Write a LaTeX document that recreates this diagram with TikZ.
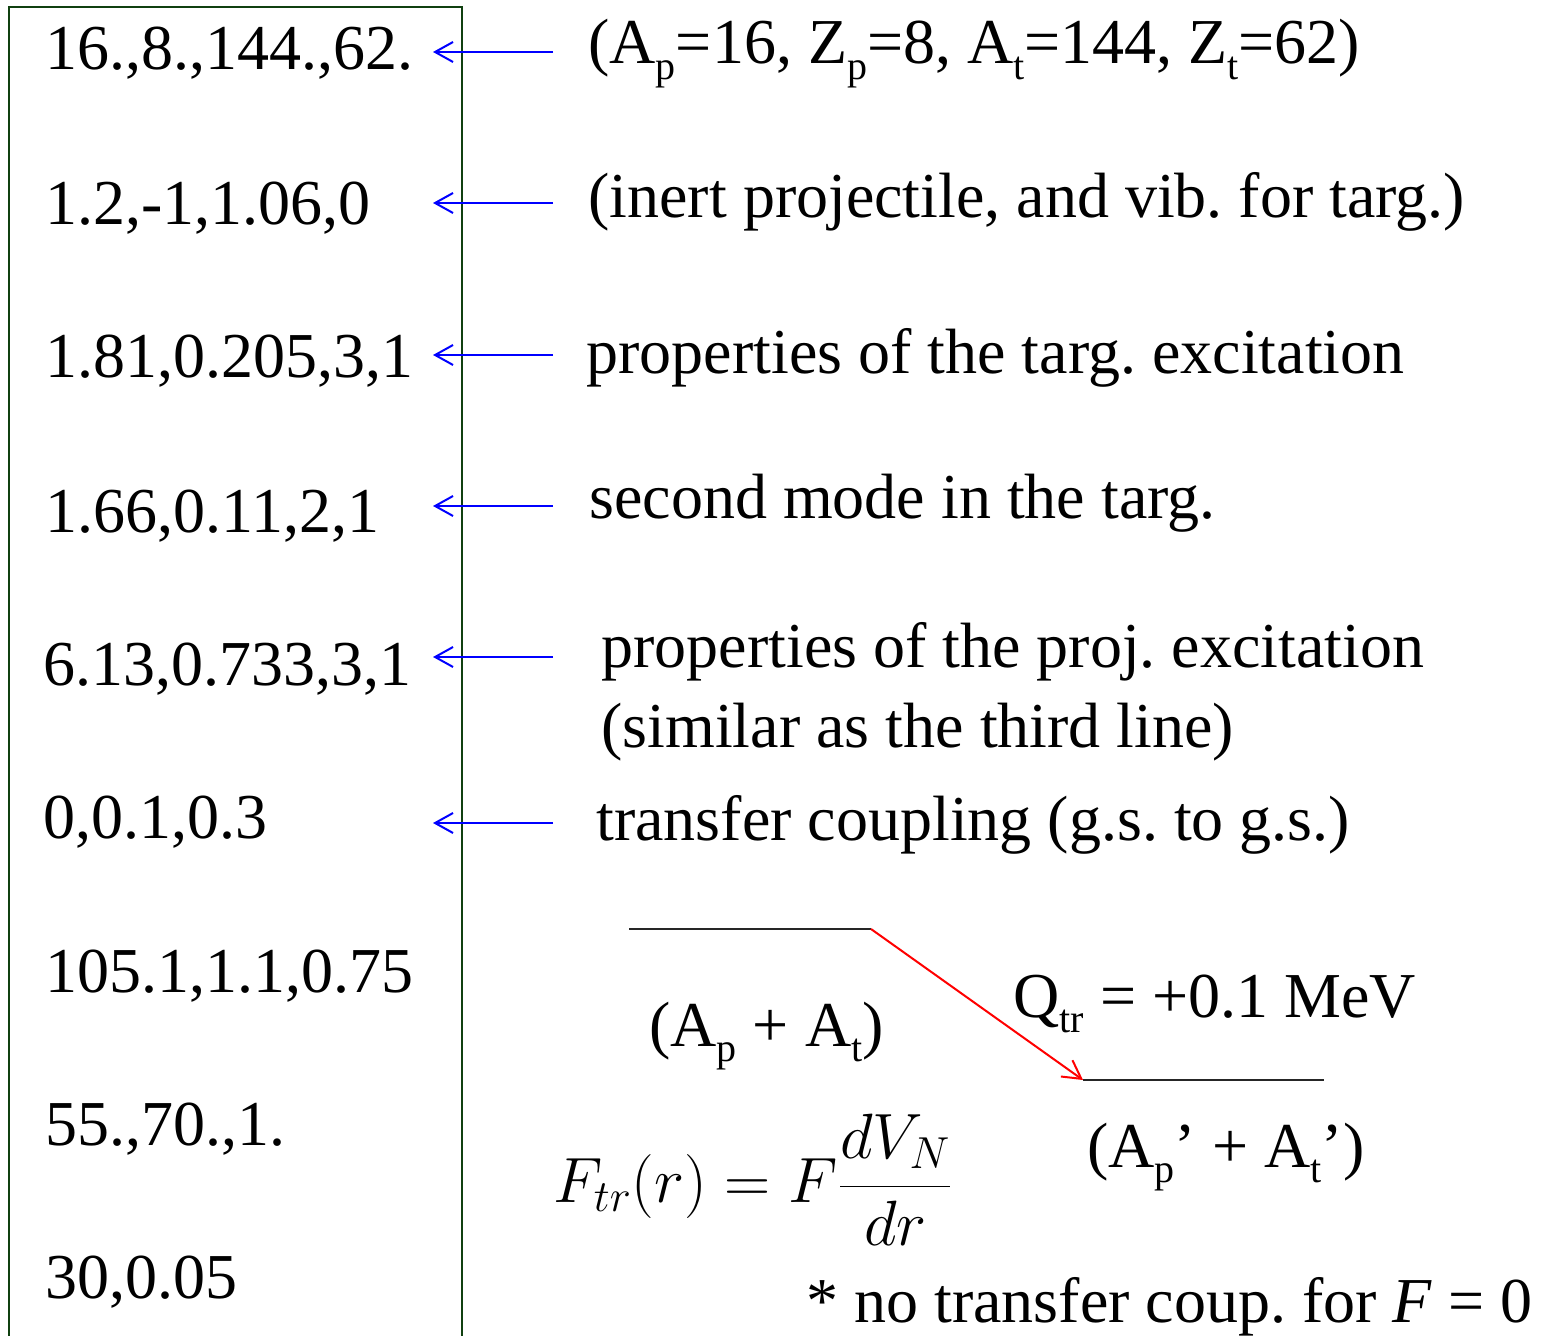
\RequirePackage{fix-cm}
\documentclass[tikz,border=0pt]{standalone}
\usepackage[no-math]{fontspec}
\setmainfont{Liberation Serif}
\usetikzlibrary{arrows.meta}
\definecolor{framegreen}{RGB}{16,64,16}
\frenchspacing
\newcommand{\lsub}[1]{\raisebox{-0.24em}{\fontsize{20}{20}\selectfont #1}}

\begin{document}
\begin{tikzpicture}[
  x=0.5pt, y=-0.5pt,
  txt/.style={anchor=base west, inner sep=0pt, font=\fontsize{32}{38}\selectfont},
  val/.style={txt},
  note/.style={txt},
  frame/.style={draw=framegreen, line width=1pt},
  ptr/.style={-{Straight Barb[length=9pt, width=10pt]}, blue, line width=1pt},
  lvl/.style={line width=1pt, black!85},
  xfer/.style={-{Straight Barb[length=9pt, width=10pt]}, red, line width=1pt}
]
\useasboundingbox (0,0) rectangle (1545,1336);

% input card
\draw[frame] (9,1336) |- (462,7) -- (462,1336);
\node[val] (v1) at (45,70)   {16.,8.,144.,62.};
\node[val] (v2) at (45,225)  {1.2,-1,1.06,0};
\node[val] (v3) at (45,378)  {1.81,0.205,3,1};
\node[val] (v4) at (45,532)  {1.66,0.11,2,1};
\node[val] (v5) at (43,685)  {6.13,0.733,3,1};
\node[val] (v6) at (43,838)  {0,0.1,0.3};
\node[val] (v7) at (45,992)  {105.1,1.1,0.75};
\node[val] (v8) at (45,1145) {55.,70.,1.};
\node[val] (v9) at (45,1298) {30,0.05};

% comments
\node[note] (c1) at (588,64)  {(A\lsub{p}=16, Z\lsub{p}=8, A\lsub{t}=144, Z\lsub{t}=62)};
\node[note] (c2) at (588,218) {(inert projectile, and vib. for targ.)};
\node[note] (c3) at (586,374) {properties of the targ. excitation};
\node[note] (c4) at (589,518) {second mode in the targ.};
\node[note] (c5) at (601,667) {properties of the proj. excitation};
\node[note] (c5b) at (601,747) {(similar as the third line)};
\node[note] (c6) at (596,840) {transfer coupling (g.s. to g.s.)};

\coordinate (t1) at (553,52);  \coordinate (h1) at (433,52);
\coordinate (t2) at (553,203); \coordinate (h2) at (433,203);
\coordinate (t3) at (553,355); \coordinate (h3) at (433,355);
\coordinate (t4) at (553,506); \coordinate (h4) at (433,506);
\coordinate (t5) at (553,657); \coordinate (h5) at (433,657);
\coordinate (t6) at (553,823); \coordinate (h6) at (433,823);
\draw[ptr] (t1) -- (h1);
\draw[ptr] (t2) -- (h2);
\draw[ptr] (t3) -- (h3);
\draw[ptr] (t4) -- (h4);
\draw[ptr] (t5) -- (h5);
\draw[ptr] (t6) -- (h6);

% transfer levels
\coordinate (gsw) at (629,929);  \coordinate (gse) at (871,929);
\coordinate (trw) at (1083,1080); \coordinate (tre) at (1324,1080);
\draw[lvl] (gsw) -- (gse);
\draw[lvl] (trw) -- (tre);
\draw[xfer] (gse) -- (trw);
\node[txt] (gs) at (649,1046)  {(A\lsub{p} + A\lsub{t})};
\node[txt] (q)  at (1013,1017) {Q\lsub{tr} = +0.1 MeV};
\node[txt] (tr) at (1087,1167) {(A\lsub{p}’ + A\lsub{t}’)};
\node[txt] (ff) at (553,1202)  {$\displaystyle F_{tr}(r) = F\frac{dV_N}{dr}$};
\node[txt] (fn) at (806,1322)  {* no transfer coup. for \textit{F} = 0};
\end{tikzpicture}
\end{document}
